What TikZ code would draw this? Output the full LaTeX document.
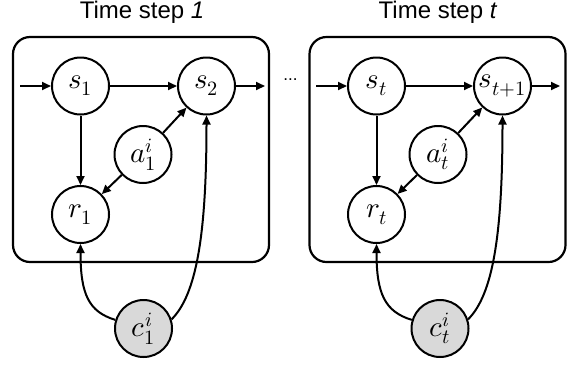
\documentclass[tikz,border=0pt]{standalone}
\usepackage{fontspec}
\usepackage{unicode-math}
\setmainfont{Liberation Sans}
\setmathfont{Latin Modern Math}
\usetikzlibrary{arrows.meta}
\tikzset{
  var/.style={circle, draw, line width=2pt, minimum size=57pt, inner sep=0pt, font=\fontsize{29}{33}\selectfont},
  obs/.style={var, fill=gray!30},
  frame/.style={draw, line width=2.2pt, rounded corners=17pt, minimum width=256pt, minimum height=225pt, inner sep=0pt},
  title/.style={font=\fontsize{24}{28}\selectfont},
  edge/.style={line width=2pt, -{Triangle[length=9pt,width=8pt]}},
}
\begin{document}
\begin{tikzpicture}[x=1pt,y=1pt]
\useasboundingbox (0,0) rectangle (567,-365);
% frames
\node[frame] (box1) at (141,-149.5) {};
\node[frame] (box2) at (437.5,-149.5) {};
% titles
\node[title] (t1) at (142,-12.5) {Time step \textit{1}};
\node[title] (t2) at (438,-12.5) {Time step \textit{t}};
% left step
\node[var] (s1) at (80.5,-86) {$s_1$};
\node[var] (s2) at (206.5,-86) {$s_2$};
\node[var] (a1) at (143,-154.5) {$a^{i}_{1}$};
\node[var] (r1) at (80.5,-214.5) {$r_1$};
\node[obs] (c1) at (143.5,-328.5) {$c^{i}_{1}$};
\coordinate (in1) at (20,-86);
\coordinate (out1) at (265,-86);
% right step
\node[var] (st) at (376.5,-86) {$s_t$};
\node[var] (st1) at (502.5,-86) {$s_{t+1}$};
\node[var] (at) at (438,-154.5) {$a^{i}_{t}$};
\node[var] (rt) at (376.5,-214.5) {$r_t$};
\node[obs] (ct) at (440,-328.5) {$c^{i}_{t}$};
\coordinate (in2) at (316,-86);
\coordinate (out2) at (560,-86);
% dots
\node[font=\fontsize{17}{20}\selectfont, inner sep=0pt] (dots) at (290.5,-80) {...};
% edges left
\draw[edge] (in1) -- (s1);
\draw[edge] (s1) -- (s2);
\draw[edge] (s2) -- (out1);
\draw[edge] (s1) -- (r1);
\draw[edge] (a1) -- (s2);
\draw[edge] (a1) -- (r1);
\draw[edge] (c1.163) .. controls +(163:28) and +(-90:50) .. (r1.south);
\draw[edge] (c1.18) .. controls +(45:35) and +(-90:120) .. (s2.south);
% edges right
\draw[edge] (in2) -- (st);
\draw[edge] (st) -- (st1);
\draw[edge] (st1) -- (out2);
\draw[edge] (st) -- (rt);
\draw[edge] (at) -- (st1);
\draw[edge] (at) -- (rt);
\draw[edge] (ct.163) .. controls +(163:28) and +(-90:50) .. (rt.south);
\draw[edge] (ct.18) .. controls +(45:35) and +(-90:120) .. (st1.south);
\end{tikzpicture}
\end{document}
